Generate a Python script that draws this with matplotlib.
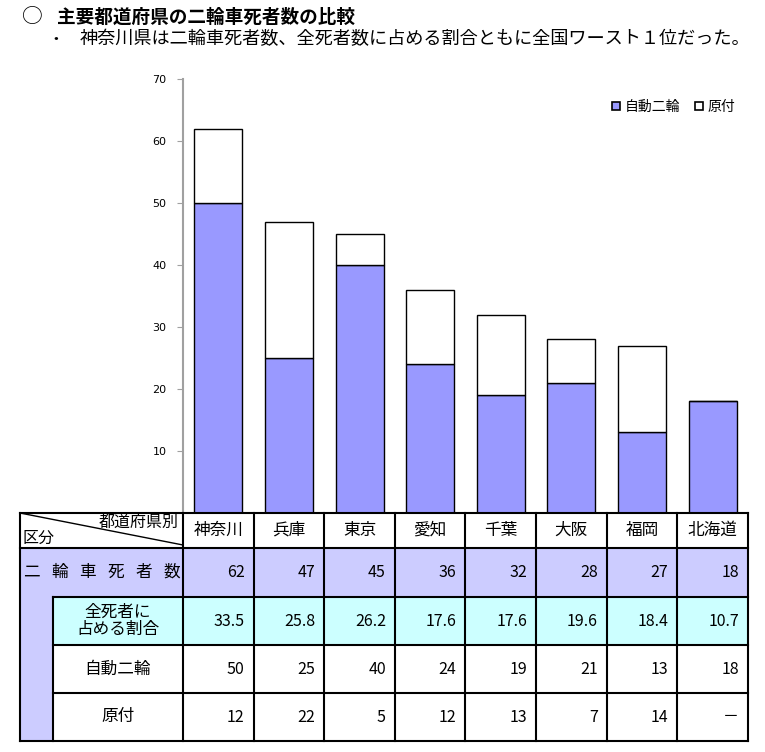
import matplotlib
matplotlib.use("Agg")
import matplotlib.pyplot as plt
from matplotlib.patches import Rectangle
from matplotlib.lines import Line2D

plt.rcParams['font.family'] = ['Noto Sans CJK JP', 'DejaVu Sans']

# ---------------- data ----------------
prefectures = ["神奈川", "兵庫", "東京", "愛知", "千葉", "大阪", "福岡", "北海道"]
total_deaths = [62, 47, 45, 36, 32, 28, 27, 18]
share_pct = [33.5, 25.8, 26.2, 17.6, 17.6, 19.6, 18.4, 10.7]
motorcycle = [50, 25, 40, 24, 19, 21, 13, 18]
moped = [12, 22, 5, 12, 13, 7, 14, None]
y_ticks = [10, 20, 30, 40, 50, 60, 70]
title = "主要都道府県の二輪車死者数の比較"
subtitle = "神奈川県は二輪車死者数、全死者数に占める割合ともに全国ワースト１位だった。"

W, H = 765, 752
fig = plt.figure(figsize=(W / 100, H / 100), dpi=100)

# layout (pixels)
x_left_tbl = 20
x_inner = 53
x0 = 183
x1 = 748
y_top_axis = 79
rows_y = [513, 548, 597, 645, 693, 741]

PURPLE = "#9999FF"
LAV = "#CCCCFF"
CYAN = "#CCFFFF"

def fx(x):
    return x / W

def fy(y):
    return 1 - y / H

# ---------------- chart ----------------
ax = fig.add_axes([fx(x0), fy(rows_y[0]), fx(x1) - fx(x0), fy(y_top_axis) - fy(rows_y[0])])
n = len(prefectures)
xs = [i + 0.5 for i in range(n)]
moped_vals = [m if m is not None else 0 for m in moped]
ax.bar(xs, motorcycle, width=0.68, color=PURPLE, edgecolor="black", linewidth=1.0, zorder=2)
ax.bar(xs, moped_vals, bottom=motorcycle, width=0.68, color="white", edgecolor="black",
       linewidth=1.0, zorder=2)
ax.set_xlim(0, n)
ax.set_ylim(0, 70)
ax.set_yticks(y_ticks)
ax.set_yticklabels([str(t) for t in y_ticks], fontsize=8, family="DejaVu Sans")
ax.tick_params(axis="y", direction="out", length=4, color="#A0A0A0", pad=8)
ax.set_xticks([])
for s in ["top", "right", "bottom"]:
    ax.spines[s].set_visible(False)
ax.spines["left"].set_color("#A0A0A0")
ax.spines["left"].set_linewidth(1.5)
ax.patch.set_alpha(0)

handles = [
    Line2D([], [], marker="s", linestyle="none", markersize=6, markerfacecolor=PURPLE,
           markeredgecolor="black", markeredgewidth=1.2, label="自動二輪"),
    Line2D([], [], marker="s", linestyle="none", markersize=6, markerfacecolor="white",
           markeredgecolor="black", markeredgewidth=1.2, label="原付"),
]
ax.legend(handles=handles, loc="upper right", bbox_to_anchor=(1.0, 0.98), ncol=2, frameon=False,
          fontsize=10, handlelength=0.8, handletextpad=0.2, columnspacing=1.0)

# ---------------- overlay (titles + table) ----------------
ov = fig.add_axes([0, 0, 1, 1])
ov.set_xlim(0, W)
ov.set_ylim(H, 0)
ov.axis("off")
ov.patch.set_alpha(0)

ov.text(22, 17, "○", fontsize=15, va="center", ha="left")
ov.text(57, 17, title, fontsize=13.4, fontweight="bold", va="center", ha="left")
ov.text(47, 39, "・", fontsize=12, va="center", ha="left")
ov.text(80, 39, subtitle, fontsize=13.1, va="center", ha="left")

colw = (x1 - x0) / n
lw = 1.5

# background fills
ov.add_patch(Rectangle((x_left_tbl, rows_y[1]), x1 - x_left_tbl, rows_y[2] - rows_y[1],
                       facecolor=LAV, edgecolor="none"))
ov.add_patch(Rectangle((x_left_tbl, rows_y[2]), x_inner - x_left_tbl, rows_y[5] - rows_y[2],
                       facecolor=LAV, edgecolor="none"))
ov.add_patch(Rectangle((x_inner, rows_y[2]), x1 - x_inner, rows_y[3] - rows_y[2],
                       facecolor=CYAN, edgecolor="none"))

# lines
def hline(y, xa, xb):
    ov.plot([xa, xb], [y, y], color="black", lw=lw, solid_capstyle="projecting")

def vline(x, ya, yb):
    ov.plot([x, x], [ya, yb], color="black", lw=lw, solid_capstyle="projecting")

hline(rows_y[0], x_left_tbl, x1)
hline(rows_y[1], x_left_tbl, x1)
hline(rows_y[2], x_inner, x1)
hline(rows_y[3], x_inner, x1)
hline(rows_y[4], x_inner, x1)
hline(rows_y[5], x_left_tbl, x1)
vline(x_left_tbl, rows_y[0], rows_y[5])
vline(x_inner, rows_y[2], rows_y[5])
for i in range(n + 1):
    vline(x0 + i * colw, rows_y[0], rows_y[5])
# diagonal in header
ov.plot([x_left_tbl, x0], [rows_y[0], rows_y[1] - 3], color="black", lw=1.0)

ov.text(x0 - 4, rows_y[0] + 9, "都道府県別", fontsize=11.5, ha="right", va="center")
ov.text(x_left_tbl + 3, rows_y[1] - 10, "区分", fontsize=11.5, ha="left", va="center")

# row labels
label_chars = list("二輪車死者数")
cy = (rows_y[1] + rows_y[2]) / 2
for k, ch in enumerate(label_chars):
    xpos = 31 + k * (172 - 31) / (len(label_chars) - 1)
    ov.text(xpos, cy, ch, fontsize=12, ha="center", va="center")

cx_lab = (x_inner + x0) / 2
ov.text(cx_lab, (rows_y[2] + rows_y[3]) / 2, "全死者に\n占める割合", fontsize=12,
        ha="center", va="center", linespacing=1.0)
ov.text(cx_lab, (rows_y[3] + rows_y[4]) / 2, "自動二輪", fontsize=12, ha="center", va="center")
ov.text(cx_lab, (rows_y[4] + rows_y[5]) / 2, "原付", fontsize=12, ha="center", va="center")

# header + values
rows_data = [
    [str(v) for v in total_deaths],
    [f"{v:.1f}" for v in share_pct],
    [str(v) for v in motorcycle],
    [str(v) if v is not None else "－" for v in moped],
]
for i, name in enumerate(prefectures):
    cxl = x0 + i * colw
    ov.text(cxl + colw / 2, (rows_y[0] + rows_y[1]) / 2, name, fontsize=12,
            ha="center", va="center")
    for r, vals in enumerate(rows_data):
        ov.text(cxl + colw - 9, (rows_y[r + 1] + rows_y[r + 2]) / 2, vals[i], fontsize=11.5,
                ha="right", va="center")

fig.savefig("out.png", dpi=100)
